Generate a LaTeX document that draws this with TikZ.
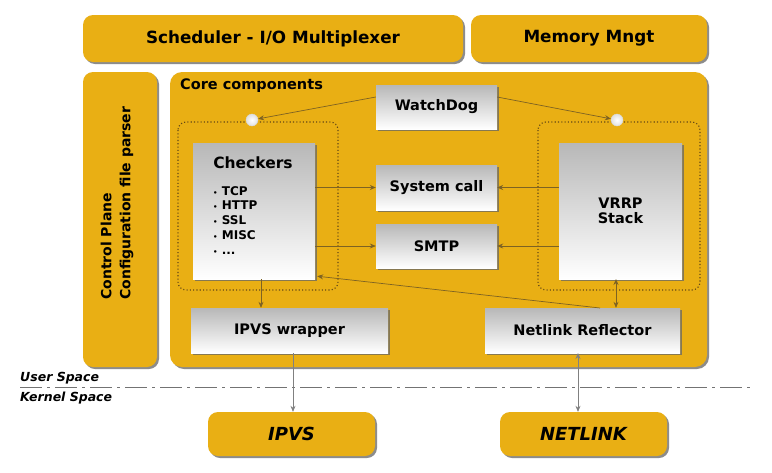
\documentclass[tikz,border=0pt]{standalone}
\usepackage{fontspec}
\setmainfont{DejaVu Sans}
\usetikzlibrary{shadows,arrows.meta}
\definecolor{gold}{RGB}{233,175,20}
\definecolor{arr}{RGB}{125,98,35}
\definecolor{dotc}{RGB}{100,72,20}
\begin{document}
\begin{tikzpicture}[x=1pt,y=-1pt,
  shad/.style={drop shadow={shadow xshift=2pt,shadow yshift=-2pt,fill=black!60,opacity=.75}},
  ybox/.style={fill=gold, rounded corners=10pt, shad, inner sep=0pt, font=\bfseries\fontsize{16.8}{19}\selectfont},
  gbox/.style={top color=black!28, bottom color=white, shad, inner sep=0pt, font=\bfseries\fontsize{14.5}{17}\selectfont},
  kbox/.style={ybox, font=\bfseries\itshape\fontsize{18}{20}\selectfont},
  grp/.style={draw=dotc, line width=1.1pt, dash pattern=on 1.1pt off 2.2pt, rounded corners=8pt},
  hole/.style={circle, inner sep=0pt, minimum size=12pt, inner color=white, outer color=black!12, draw=black!15, line width=.4pt},
  link/.style={draw=arr, line width=.7pt, -{Stealth[length=6pt,width=5pt]}},
  blink/.style={draw=arr, line width=.7pt, {Stealth[length=6pt,width=5pt]}-{Stealth[length=6pt,width=5pt]}},
  klink/.style={draw=black!50, line width=.7pt},
  spc/.style={font=\bfseries\itshape\fontsize{12.5}{14}\selectfont, anchor=west, inner sep=0pt}
]
\useasboundingbox (0,0) rectangle (772,472);
\fill[white] (0,0) rectangle (772,472);

% top bar
\node[ybox, minimum width=380pt, minimum height=47pt] (sched) at (273,38.5) {Scheduler - I/O Multiplexer};
\node[ybox, minimum width=236pt, minimum height=47pt] (mem) at (589,38.5) {Memory Mngt};

% control plane
\node[ybox, minimum width=74pt, minimum height=295pt] (ctrl) at (120,219.5) {};
\node[rotate=90, anchor=west, align=left, inner sep=0pt, font=\bfseries\fontsize{14}{19}\selectfont] (ctrlT) at (117,300) {Control Plane\\Configuration file parser};

% core
\node[ybox, rounded corners=12pt, minimum width=537pt, minimum height=295pt] (core) at (438.5,219.5) {};
\node[anchor=west, inner sep=0pt, font=\bfseries\fontsize{14.5}{16}\selectfont] (coreT) at (180,86) {Core components};

% groups
\draw[grp] (178,122) rectangle (338,290);
\draw[grp] (538,122) rectangle (700,290);
\node[hole] (hl) at (252,120) {};
\node[hole] (hr) at (617,120) {};

% inner boxes
\node[gbox, minimum width=121pt, minimum height=44pt] (wd) at (436.5,107) {WatchDog};
\node[gbox, minimum width=122pt, minimum height=136pt] (chk) at (254,211) {};
\node[font=\bfseries\fontsize{15.5}{17}\selectfont, inner sep=0pt] (chkT) at (253,163) {Checkers};
\node[anchor=north west, align=left, inner sep=0pt, font=\bfseries\fontsize{12}{14.8}\selectfont] (chkL) at (213,186)
  {{\fontsize{7}{14.8}\selectfont•} TCP\\{\fontsize{7}{14.8}\selectfont•} HTTP\\{\fontsize{7}{14.8}\selectfont•} SSL\\{\fontsize{7}{14.8}\selectfont•} MISC\\{\fontsize{7}{14.8}\selectfont•} ...};
\node[gbox, minimum width=121pt, minimum height=45pt] (sys) at (436.5,187.5) {System call};
\node[gbox, minimum width=121pt, minimum height=44pt] (smtp) at (436.5,246) {SMTP};
\node[gbox, minimum width=123pt, minimum height=136pt, align=center] (vrrp) at (620.5,211) {VRRP\\[-2pt]Stack};
\node[gbox, minimum width=197pt, minimum height=45pt] (ipw) at (289.5,330.5) {IPVS wrapper};
\node[gbox, minimum width=195pt, minimum height=45pt] (nlr) at (582.5,330.5) {Netlink Reflector};

% kernel
\node[kbox, minimum width=167pt, minimum height=44pt] (ipvs) at (291.5,434) {IPVS};
\node[kbox, minimum width=167pt, minimum height=44pt] (nl) at (583.5,434) {NETLINK};

% user / kernel separation
\coordinate (sepL) at (20,387);
\coordinate (sepR) at (752,387);
\draw[black!55, line width=.9pt, dash pattern=on 22pt off 5pt on 3pt off 5pt] (sepL) -- (sepR);
\node[spc] (us) at (20,378) {User Space};
\node[spc] (ks) at (20,398) {Kernel Space};

% connectors
\draw[link] ([yshift=10pt]wd.west) -- (hl);
\draw[link] ([yshift=10pt]wd.east) -- (hr);
\draw[link] (chk.east |- sys) -- (sys.west);
\draw[link] (chk.east |- smtp) -- (smtp.west);
\draw[link] (vrrp.west |- sys) -- (sys.east);
\draw[link] (vrrp.west |- smtp) -- (smtp.east);
\draw[link] (261,279) coordinate (c1) -- (c1 |- ipw.north);
\draw[link] (600,308) coordinate (c2) -- ([xshift=2pt,yshift=3pt]chk.south east);
\draw[blink] (616,279) coordinate (c3) -- (c3 |- nlr.north);
\draw[klink, -{Stealth[length=6pt,width=5pt]}] (293,353) coordinate (c4) -- (c4 |- ipvs.north);
\draw[klink, {Stealth[length=6pt,width=5pt]}-{Stealth[length=6pt,width=5pt]}] (578,353) coordinate (c5) -- (c5 |- nl.north);
\end{tikzpicture}
\end{document}
